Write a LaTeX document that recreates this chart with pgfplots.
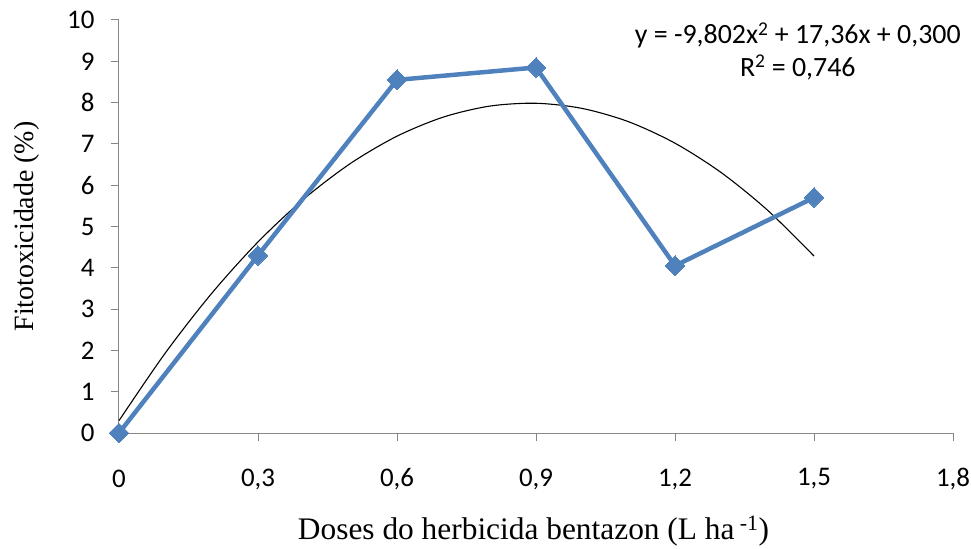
\documentclass[border=0pt]{standalone}
\usepackage{pgfplots}
\pgfplotsset{compat=1.18}
\usepackage{fontspec}
\setmainfont{Carlito}
\newfontfamily\serifx{Liberation Serif}
\definecolor{exblue}{RGB}{79,129,189}
\definecolor{axgray}{RGB}{134,134,134}
\begin{document}
\begin{tikzpicture}
\path[use as bounding box] (-119bp,-116bp) rectangle (852bp,433bp);
\begin{axis}[
  at={(0,0)}, anchor=south west,
  scale only axis,
  width=834bp, height=413bp,
  xmin=0, xmax=1.8, ymin=0, ymax=10,
  axis lines*=left,
  axis line style={axgray, line width=1pt},
  xtick={0,0.3,0.6,0.9,1.2,1.5,1.8},
  xticklabels={0,{0,3},{0,6},{0,9},{1,2},{1,5},{1,8}},
  ytick={0,1,...,10},
  tick style={axgray, line width=1pt},
  tick align=outside,
  major tick length=8bp,
  xticklabel style={font=\fontsize{27}{32}\selectfont, anchor=center, yshift=-38bp},
  yticklabel style={font=\fontsize{27}{32}\selectfont, xshift=-13bp},
  /pgf/number format/assume math mode=true,
  xlabel={\serifx\fontsize{31.5}{36}\selectfont Doses do herbicida bentazon (L ha\,\textsuperscript{-1})},
  ylabel={\serifx\fontsize{28}{32}\selectfont Fitotoxicidade (\%)},
  xlabel style={at={(axis description cs:0.497,0)}, anchor=center, yshift=-98bp},
  ylabel style={at={(axis description cs:-0.1103,0.5)}, anchor=center},
  clip=false,
]
\addplot[black, line width=1.1pt, smooth] coordinates {
(0,0.300) (0.1,1.938) (0.2,3.380) (0.3,4.626) (0.4,5.676) (0.5,6.530)
(0.6,7.187) (0.7,7.649) (0.8,7.915) (0.9,7.984) (1.0,7.858) (1.1,7.536)
(1.2,7.017) (1.3,6.303) (1.4,5.392) (1.5,4.285)};
\addplot[exblue, line width=4.5pt, mark=square*, mark size=7bp,
  mark options={exblue, line width=0pt, rotate=45}] coordinates {
(0,0) (0.3,4.3) (0.6,8.55) (0.9,8.85) (1.2,4.05) (1.5,5.7)};
\node[align=center, font=\fontsize{28}{33}\selectfont] at (axis cs:1.465,9.24)
  {y = -9,802x\textsuperscript{2} + 17,36x + 0,300\\ R\textsuperscript{2} = 0,746};
\end{axis}
\end{tikzpicture}
\end{document}
